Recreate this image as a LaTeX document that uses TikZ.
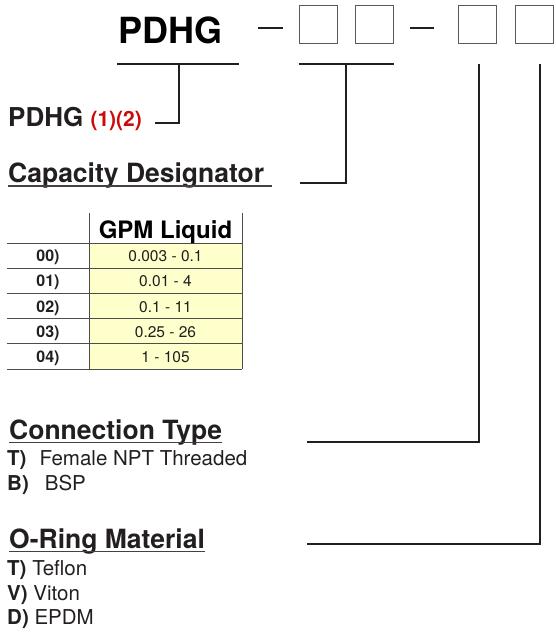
\documentclass[tikz,border=0pt]{standalone}
\usepackage{fontspec}
\setmainfont{TeX Gyre Heros}
\usetikzlibrary{positioning,calc}
\definecolor{ink}{RGB}{35,31,32}
\definecolor{codered}{RGB}{205,10,10}
\definecolor{cellyellow}{RGB}{255,255,204}
\tikzset{
  title/.style={font=\bfseries\fontsize{36}{40}\selectfont, text=black, inner sep=0pt, anchor=base west},
  digit/.style={draw=black!65, line width=1pt, minimum size=38pt, inner sep=0pt},
  dashline/.style={line width=1.6pt, draw=ink},
  bracket/.style={line width=1.4pt, draw=ink},
  uline/.style={line width=1.4pt, draw=ink!85},
  heading/.style={font=\bfseries\fontsize{26.5}{30}\selectfont, text=ink, inner sep=0pt, anchor=base west},
  option/.style={font=\fontsize{20.5}{24}\selectfont, text=ink, inner sep=0pt, anchor=base west},
  grid/.style={line width=0.9pt, draw=black!70},
  tablehead/.style={font=\bfseries\fontsize{24}{28}\selectfont, text=black, inner sep=0pt, anchor=base},
  rowcode/.style={font=\bfseries\fontsize{16}{18}\selectfont, text=ink, inner sep=0pt, anchor=base},
  rowval/.style={font=\fontsize{15.5}{18}\selectfont, text=ink, inner sep=0pt, anchor=base},
}

\begin{document}
\begin{tikzpicture}[x=1pt,y=-1pt]
  \useasboundingbox (0,0) rectangle (556,633);
  % Rows, heights and bracket level
  \def\brY{64}
  \def\rowH{25.2}
  \def\headY{243}

  % Model code
  \node[title] (model) at (118,43) {PDHG};
  \node[digit] (d1) at (318,24) {};
  \node[digit, right=17pt of d1] (d2) {};
  \node[digit] (d3) at (477,24) {};
  \node[digit, right=18pt of d3] (d4) {};
  \draw[dashline] (258,28) -- (283,28);
  \draw[dashline] (410,28) -- (434,28);

  % Brackets under the code
  \draw[bracket] (117,\brY) -- (239,\brY);
  \draw[bracket] (d1.west |- 0,\brY) -- (d2.east |- 0,\brY);
  \coordinate (modelTop) at (179,\brY);
  \coordinate (capTop) at ($(d1.west |- 0,\brY)!0.5!(d2.east |- 0,\brY)$);
  \coordinate (connTop) at (479,\brY);
  \coordinate (ringTop) at (540,\brY);

  % Labels
  \node[heading, font=\bfseries\fontsize{26}{30}\selectfont] (series) at (8,126)
    {PDHG \textcolor{codered}{\fontsize{21}{24}\selectfont(1)(2)}};
  \coordinate (seriesEnd) at (155,123);
  \node[heading] (cap) at (8,182) {Capacity Designator};
  \coordinate (capEnd) at (300,183);
  \draw[uline] ([yshift=-4pt]cap.base west) -- ([xshift=8pt,yshift=-4pt]cap.base east);

  % Table of capacities
  \fill[cellyellow] (89,\headY) rectangle (242,{\headY+5*\rowH});
  \draw[grid] (89,213) -- (89,{\headY+5*\rowH});
  \draw[grid] (242,213) -- (242,{\headY+5*\rowH});
  \foreach \k in {0,...,5}
    \draw[grid] (7,{\headY+\k*\rowH}) -- (242,{\headY+\k*\rowH});
  \node[tablehead] (gpm) at (165.5,238) {GPM Liquid};
  \foreach \code/\range [count=\i] in {00)/0.003 - 0.1, 01)/0.01 - 4, 02)/0.1 - 11, 03)/0.25 - 26, 04)/1 - 105}
  {
    \node[rowcode] (code\i) at (48,{\headY+\rowH*(\i-0.5)+6}) {\code};
    \node[rowval] (val\i) at (165.5,{\headY+\rowH*(\i-0.5)+6}) {\range};
  }

  % Connection type
  \node[heading] (conn) at (9,439) {Connection Type};
  \draw[uline] ([yshift=-3.5pt]conn.base west) -- ([yshift=-3.5pt]conn.base east);
  \coordinate (connEnd) at (307,442);
  \node[option] (connT) at (7,465) {\textbf{T)}\hspace{13pt}Female NPT Threaded};
  \node[option] (connB) at (7,490) {\textbf{B)}\hspace{16pt}BSP};

  % O-ring material
  \node[heading] (ring) at (9,548) {O-Ring Material};
  \draw[uline] ([yshift=-3.5pt]ring.base west) -- ([yshift=-3.5pt]ring.base east);
  \coordinate (ringEnd) at (307,544);
  \node[option] (ringT) at (7,575) {\textbf{T)} Teflon};
  \node[option] (ringV) at (7,600) {\textbf{V)} Viton};
  \node[option] (ringD) at (7,624) {\textbf{D)} EPDM};

  % Connectors
  \draw[bracket] (modelTop) |- (seriesEnd);
  \draw[bracket] (capTop) |- (capEnd);
  \draw[bracket] (connTop) |- (connEnd);
  \draw[bracket] (ringTop) |- (ringEnd);
\end{tikzpicture}
\end{document}
